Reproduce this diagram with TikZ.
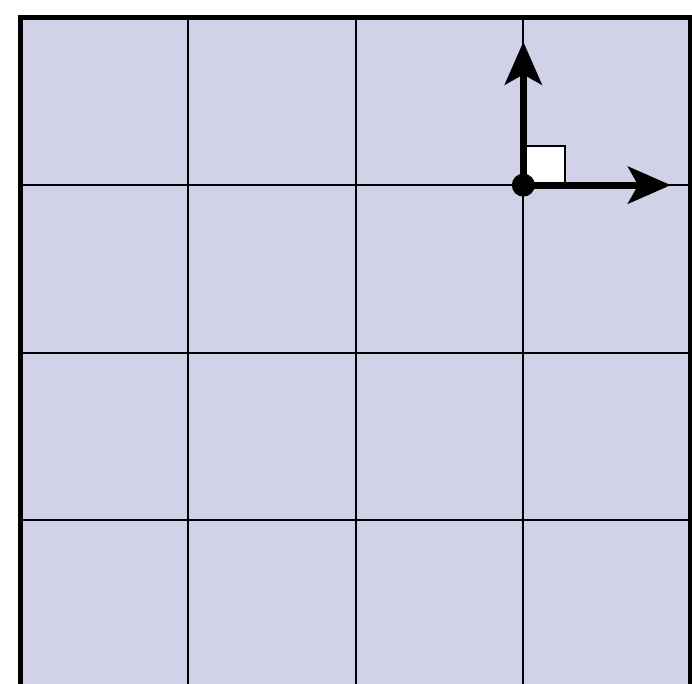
\documentclass[tikz,border=0pt]{standalone}
\usepackage{tikz}
\usetikzlibrary{arrows.meta}
\definecolor{cellfill}{RGB}{209,209,232}
\tikzset{
  gridline/.style={black, line width=0.6pt},
  frameline/.style={black, line width=1.7pt},
  basisarrow/.style={-{Stealth[length=5.1mm, width=4.4mm, inset=1.2mm]}, line width=2.4pt},
  rightmark/.style={draw, fill=white, line width=0.6pt}
}
\begin{document}
\begin{tikzpicture}
      \useasboundingbox (-0.2446,0.2088) rectangle (8.013,-7.942);
      \clip (-0.2446,0.2088) rectangle (8.013,-7.942);
      % cells
      \fill[cellfill] (0,0) rectangle (8,-8);
      \draw[gridline] (0,0) grid[step=2] (8,-8);
      \draw[frameline] (0,0) rectangle (8,-8);
      % basis at a grid point
      \coordinate (orig) at (6,-2);
      \coordinate (ex) at (7.76,-2);
      \coordinate (ey) at (6,-0.29);
      \draw[rightmark] (orig) rectangle ++(0.5,0.47);
      \draw[basisarrow] (orig) -- (ex);
      \draw[basisarrow] (orig) -- (ey);
      \fill (orig) circle (0.137);
    \end{tikzpicture}
\end{document}
